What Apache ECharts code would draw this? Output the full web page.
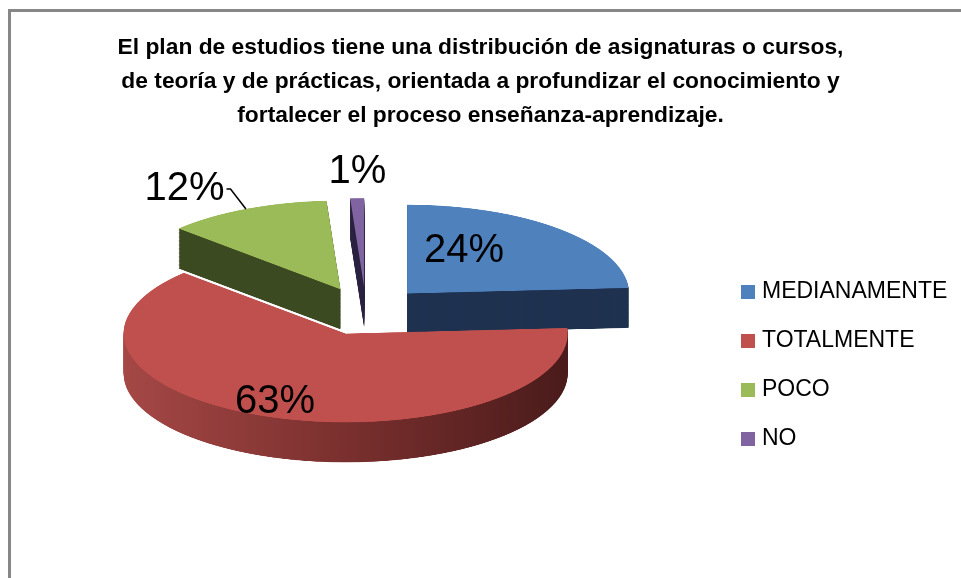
<!DOCTYPE html>
<html>
<head>
<meta charset="utf-8">
<script src="https://cdn.jsdelivr.net/npm/echarts@6/dist/echarts.min.js"></script>
<style>
html, body { margin: 0; padding: 0; background: #fff; }
.stage { position: relative; width: 961px; height: 578px; overflow: hidden; }
/* the disc is drawn round, then squashed so it reads as a tilted 3D pie */
#pie { position: absolute; left: 0; top: 0; width: 961px; height: 1445px; transform: scaleY(0.4); transform-origin: 0 0; }
#front { position: absolute; left: 0; top: 0; width: 961px; height: 578px; }
</style>
</head>
<body>
<div class="stage">
  <div id="pie"></div>
  <div id="front"></div>
</div>
<script>
const titleLines = [
  'El plan de estudios tiene una distribución de asignaturas o cursos,',
  'de teoría y de prácticas, orientada a profundizar el conocimiento y',
  'fortalecer el proceso enseñanza-aprendizaje.',
];
const categories = ['MEDIANAMENTE', 'TOTALMENTE', 'POCO', 'NO'];
const values = [24, 63, 12, 1];

const topColors = ['#4f81bd', '#c0504d', '#9bbb59', '#8064a2'];
const sideColors = [
  '#1f3250',
  {
    type: 'linear', x: 0, y: 0, x2: 1, y2: 0,
    colorStops: [
      { offset: 0, color: '#a54846' },
      { offset: 0.5, color: '#7a302e' },
      { offset: 1, color: '#4a1b1b' },
    ],
  },
  '#3c4a21',
  '#2e2540',
];

const TILT = 0.4;
const CX = 366;
const CY = 311;
const RADIUS = 222;
const EXPLODE = 60;
const DEPTH = 100; // 40px once squashed
const FONT = '"Liberation Sans", Arial, sans-serif';

const slab = (offset, colors) => ({
  type: 'pie',
  center: [CX, CY / TILT + offset],
  radius: RADIUS,
  startAngle: 90,
  selectedMode: 'multiple',
  selectedOffset: EXPLODE,
  silent: true,
  label: { show: false },
  labelLine: { show: false },
  emphasis: { disabled: true },
  itemStyle: { borderWidth: 0 },
  select: { itemStyle: { borderWidth: 0 } },
  data: categories.map((name, i) => ({
    name,
    value: values[i],
    selected: true,
    itemStyle: { color: colors[i] },
  })),
});

const pieSeries = [];
for (let off = DEPTH; off > 0; off -= 2) {
  pieSeries.push(slab(off, sideColors));
}
pieSeries.push(slab(0, topColors));

const pieChart = echarts.init(document.getElementById('pie'));
pieChart.setOption({ animation: false, series: pieSeries });

// labels come from a see-through pie on the flat layer; move them out by the
// explode distance and pull them onto the ellipse
const total = values.reduce((a, b) => a + b, 0);
const explodeShift = (i) => {
  const before = values.slice(0, i).reduce((a, b) => a + b, 0);
  const mid = (before + values[i] / 2) / total * Math.PI * 2;
  return [EXPLODE * Math.sin(mid), -EXPLODE * Math.cos(mid)];
};
const nudge = [[-21, -9], [-32, 25], [8, 0], [35, -16]];
const squash = (p) => {
  const r = p.labelRect;
  const s = explodeShift(p.dataIndex);
  const n = nudge[p.dataIndex];
  const out = {
    x: r.x + r.width / 2 + s[0] + n[0],
    y: CY + (r.y + r.height / 2 + s[1] - CY) * TILT + n[1],
    align: 'center',
    verticalAlign: 'middle',
  };
  if (p.labelLinePoints) {
    out.labelLinePoints = p.labelLinePoints.map(([x, y], k) => [
      x + s[0] + (k ? n[0] : 0),
      CY + (y + s[1] - CY) * TILT,
    ]);
  }
  return out;
};

const front = echarts.init(document.getElementById('front'));
front.setOption({
  animation: false,
  title: {
    text: titleLines.join('\n'),
    left: 'center',
    top: 26,
    padding: [5, 5, 5, 18],
    textStyle: {
      fontFamily: FONT,
      fontSize: 22.8,
      fontWeight: 'bold',
      lineHeight: 34,
      color: '#000',
    },
  },
  legend: {
    orient: 'vertical',
    left: 736,
    top: 275,
    itemWidth: 14,
    itemHeight: 14,
    itemGap: 25,
    icon: 'rect',
    selectedMode: false,
    textStyle: {
      fontFamily: FONT,
      fontSize: 23,
      lineHeight: 24,
      color: '#000',
      padding: [0, 0, 0, 2],
    },
    data: categories.map((name, i) => ({ name, itemStyle: { color: topColors[i] } })),
  },
  graphic: [{
    type: 'rect',
    silent: true,
    shape: { x: 9.5, y: 10.5, width: 1000, height: 620 },
    style: { fill: 'none', stroke: '#878787', lineWidth: 3 },
  }],
  series: [{
    type: 'pie',
    center: [CX, CY],
    radius: RADIUS,
    startAngle: 90,
    avoidLabelOverlap: false,
    silent: true,
    itemStyle: { color: 'rgba(0,0,0,0)', borderWidth: 0 },
    label: {
      show: true,
      position: 'inside',
      formatter: (p) => Math.round(p.percent) + '%',
      fontFamily: FONT,
      fontSize: 40,
      color: '#000',
    },
    labelLine: { show: false },
    labelLayout: squash,
    data: categories.map((name, i) => ({
      name,
      value: values[i],
      itemStyle: { color: 'rgba(0,0,0,0)' },
      label: i === 2 ? { position: 'outside', distanceToLabelLine: 2 } : i === 3 ? { position: 'outside' } : {},
      labelLine: i === 2
        ? { show: true, length: 55, length2: 4, lineStyle: { color: '#000', width: 1.5 } }
        : { show: false, length: 25, length2: 0 },
    })),
  }],
});
</script>
</body>
</html>
